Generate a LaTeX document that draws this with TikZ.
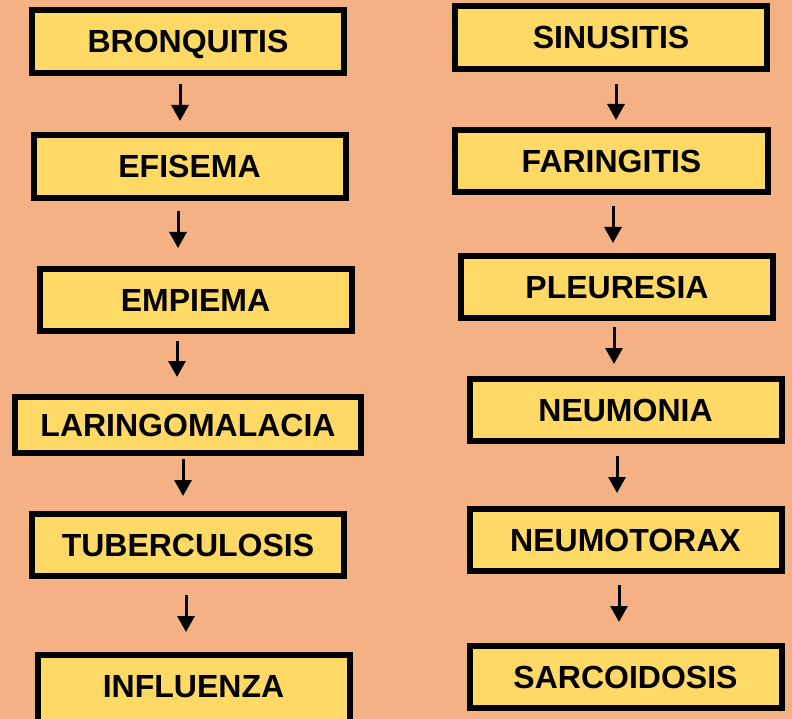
\documentclass[tikz,border=0pt]{standalone}
\usepackage{fontspec}
\setmainfont{Liberation Sans}
\usetikzlibrary{arrows.meta}
\usetikzlibrary{positioning}

\definecolor{fondo}{HTML}{F4B183}
\definecolor{amarillo}{HTML}{FFD966}

\tikzset{
  caja/.style={draw=black, line width=6pt, fill=amarillo, minimum width=312pt,
    minimum height=62pt, inner sep=0pt, text height=23pt, text depth=0pt,
    font=\fontsize{32}{37}\selectfont\bfseries},
  flecha/.style={-{Triangle[width=17pt, length=16pt]}, line width=3pt}
}

\begin{document}
\begin{tikzpicture}[x=1pt, y=-1pt]
  % fondo
  \fill[fondo] (0,0) rectangle (792,719);
  \useasboundingbox (0,0) rectangle (792,719);

  % columna izquierda
  \node[caja, minimum height=63pt] (l1) at (188,41.5)  {BRONQUITIS};
  \node[caja, minimum height=63pt] (l2) at (189.5,166.5) {EFISEMA};
  \node[caja] (l3) at (195.5,300) {EMPIEMA};
  \node[caja, minimum width=346pt, minimum height=56pt] (l4) at (188,425) {LARINGOMALACIA};
  \node[caja] (l5) at (188,545)   {TUBERCULOSIS};
  \node[caja, minimum height=70pt, text depth=8pt] (l6) at (193.5,690) {INFLUENZA};

  % columna derecha
  \node[caja, minimum height=63pt] (r1) at (611,37.5) {SINUSITIS};
  \node[caja, minimum width=313pt] (r2) at (611.5,161) {FARINGITIS};
  \node[caja] (r3) at (617,287)   {PLEURESIA};
  \node[caja] (r4) at (625.5,410) {NEUMONIA};
  \node[caja] (r5) at (625.5,540) {NEUMOTORAX};
  \node[caja] (r6) at (625.5,677) {SARCOIDOSIS};

  % flechas
  \draw[flecha, shorten <=8pt,  shorten >=11pt] ([xshift=-8pt]l1.south)    -- ([xshift=-8pt]l1.south |- l2.north);
  \draw[flecha, shorten <=10pt, shorten >=18pt] ([xshift=-11.5pt]l2.south) -- ([xshift=-11.5pt]l2.south |- l3.north);
  \draw[flecha, shorten <=7pt,  shorten >=17pt] ([xshift=-18.5pt]l3.south) -- ([xshift=-18.5pt]l3.south |- l4.north);
  \draw[flecha, shorten <=3pt,  shorten >=15pt] ([xshift=-5pt]l4.south)    -- ([xshift=-5pt]l4.south |- l5.north);
  \draw[flecha, shorten <=16pt, shorten >=20pt] ([xshift=-2pt]l5.south)    -- ([xshift=-2pt]l5.south |- l6.north);

  \draw[flecha, shorten <=12pt, shorten >=7pt]  ([xshift=5pt]r1.south)     -- ([xshift=5pt]r1.south |- r2.north);
  \draw[flecha, shorten <=11pt, shorten >=10pt] ([xshift=1.5pt]r2.south)   -- ([xshift=1.5pt]r2.south |- r3.north);
  \draw[flecha, shorten <=6pt,  shorten >=12pt] ([xshift=-3pt]r3.south)    -- ([xshift=-3pt]r3.south |- r4.north);
  \draw[flecha, shorten <=12pt, shorten >=13pt] ([xshift=-8.5pt]r4.south)  -- ([xshift=-8.5pt]r4.south |- r5.north);
  \draw[flecha, shorten <=11pt, shorten >=21pt] ([xshift=-6.5pt]r5.south)  -- ([xshift=-6.5pt]r5.south |- r6.north);
\end{tikzpicture}
\end{document}
